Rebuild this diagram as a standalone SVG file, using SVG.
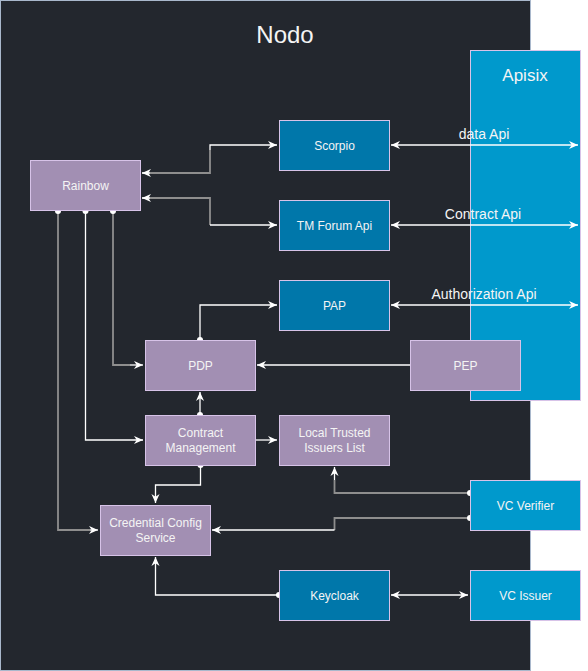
<svg xmlns="http://www.w3.org/2000/svg" width="588" height="671" viewBox="0 0 588 671">
<style>
text{font-family:"Liberation Sans",Arial,sans-serif;fill:#F4F4F4;text-anchor:middle}
.n{font-size:12px}
.lbl{font-size:14px}
.purple{fill:#A28FB3;stroke:#D7C3E8;stroke-width:1}
.dblue{fill:#0077AA;stroke:#D7C3E8;stroke-width:1}
.lblue{fill:#0099CC;stroke:#D7C3E8;stroke-width:1}
.w{fill:none;stroke:#FFFFFF;stroke-width:1.3}
.g{fill:none;stroke:#8E8E8E;stroke-width:1.8}
.dot{fill:#FFFFFF}
</style>
<defs>
<marker id="arr" markerUnits="userSpaceOnUse" markerWidth="9" markerHeight="9" viewBox="0 0 10 10" refX="10" refY="5" orient="auto-start-reverse">
<path d="M0,0.5 L10,5 L0,9.5 L3,5 z" fill="#FFFFFF"/>
</marker>
</defs>
<rect x="0.5" y="0.5" width="530" height="670" fill="#23272E" stroke="#A9B8CC" stroke-width="1"/>
<text x="285" y="43" style="font-size:24px">Nodo</text>
<g id="apisix">
<rect class="lblue" x="470.5" y="50.5" width="110" height="350"/>
<text x="525" y="81" style="font-size:17px">Apisix</text>
</g>
<g id="connectors">
<path class="g" d="M142,173 H210 V150"/>
<path class="w" d="M210,150 V145 H277" marker-end="url(#arr)"/>
<path class="w" d="M142,173 H150" marker-start="url(#arr)"/>
<path class="g" d="M142,198 H210 V225"/>
<path class="w" d="M210,225 H277" marker-end="url(#arr)"/>
<path class="w" d="M142,198 H150" marker-start="url(#arr)"/>
<path class="w" d="M391,145 H578" marker-start="url(#arr)" marker-end="url(#arr)"/>
<path class="w" d="M391,225 H578" marker-start="url(#arr)" marker-end="url(#arr)"/>
<path class="w" d="M391,305 H578" marker-start="url(#arr)" marker-end="url(#arr)"/>
<path class="g" d="M58,211 V530 H90"/>
<path class="w" d="M90,530 H98" marker-end="url(#arr)"/>
<circle class="dot" cx="58" cy="211" r="3"/>
<path class="w" d="M85.5,211 V440 H143" marker-end="url(#arr)"/>
<circle class="dot" cx="85.5" cy="211" r="3"/>
<path class="g" d="M113,211 V365 H130"/>
<path class="w" d="M130,365 H143" marker-end="url(#arr)"/>
<circle class="dot" cx="113" cy="211" r="3"/>
<path class="w" d="M200,340 V305 H277" marker-end="url(#arr)"/>
<circle class="dot" cx="200" cy="340" r="3"/>
<path class="w" d="M410,365 H257" marker-end="url(#arr)"/>
<path class="w" d="M200,415 V392" marker-end="url(#arr)"/>
<circle class="dot" cx="200" cy="415" r="3"/>
<path class="w" d="M255,440 H277" marker-end="url(#arr)"/>
<path class="w" d="M200.5,465 V485 H155.5 V503" marker-end="url(#arr)"/>
<circle class="dot" cx="200.5" cy="465" r="3"/>
<path class="g" d="M470,493 H334.5 V480"/>
<path class="w" d="M334.5,480 V467" marker-end="url(#arr)"/>
<circle class="dot" cx="470" cy="493" r="3"/>
<path class="g" d="M470,518 H334.5 V530"/>
<path class="w" d="M334.5,530 H212" marker-end="url(#arr)"/>
<circle class="dot" cx="470" cy="518" r="3"/>
<path class="w" d="M279,595 H155.5 V557" marker-end="url(#arr)"/>
<circle class="dot" cx="279" cy="595" r="3"/>
<path class="w" d="M391,595 H468" marker-start="url(#arr)" marker-end="url(#arr)"/>
</g>
<text class="lbl" x="484" y="139">data Api</text>
<text class="lbl" x="483" y="219">Contract Api</text>
<text class="lbl" x="484" y="299">Authorization Api</text>
<g id="rainbow"><rect class="purple" x="30.5" y="160.5" width="110" height="50"/><text class="n" x="85.5" y="189.5">Rainbow</text></g>
<g id="scorpio"><rect class="dblue" x="279.5" y="120.5" width="110" height="50"/><text class="n" x="334.5" y="149.5">Scorpio</text></g>
<g id="tmforum"><rect class="dblue" x="279.5" y="200.5" width="110" height="50"/><text class="n" x="334.5" y="229.5">TM Forum Api</text></g>
<g id="pap"><rect class="dblue" x="279.5" y="280.5" width="110" height="50"/><text class="n" x="334.5" y="309.5">PAP</text></g>
<g id="pdp"><rect class="purple" x="145.5" y="340.5" width="110" height="50"/><text class="n" x="200.5" y="369.5">PDP</text></g>
<g id="pep"><rect class="purple" x="410.5" y="340.5" width="110" height="50"/><text class="n" x="465.5" y="369.5">PEP</text></g>
<g id="contract"><rect class="purple" x="145.5" y="415.5" width="110" height="50"/><text class="n" x="200.5" y="437">Contract</text><text class="n" x="200.5" y="452">Management</text></g>
<g id="ltil"><rect class="purple" x="279.5" y="415.5" width="110" height="50"/><text class="n" x="334.5" y="437">Local Trusted</text><text class="n" x="334.5" y="452">Issuers List</text></g>
<g id="vcverifier"><rect class="lblue" x="470.5" y="480.5" width="110" height="50"/><text class="n" x="525.5" y="509.5">VC Verifier</text></g>
<g id="ccs"><rect class="purple" x="100.5" y="505.5" width="110" height="50"/><text class="n" x="155.5" y="527">Credential Config</text><text class="n" x="155.5" y="542">Service</text></g>
<g id="keycloak"><rect class="dblue" x="279.5" y="570.5" width="110" height="50"/><text class="n" x="334.5" y="599.5">Keycloak</text></g>
<g id="vcissuer"><rect class="lblue" x="470.5" y="570.5" width="110" height="50"/><text class="n" x="525.5" y="599.5">VC Issuer</text></g>
</svg>
